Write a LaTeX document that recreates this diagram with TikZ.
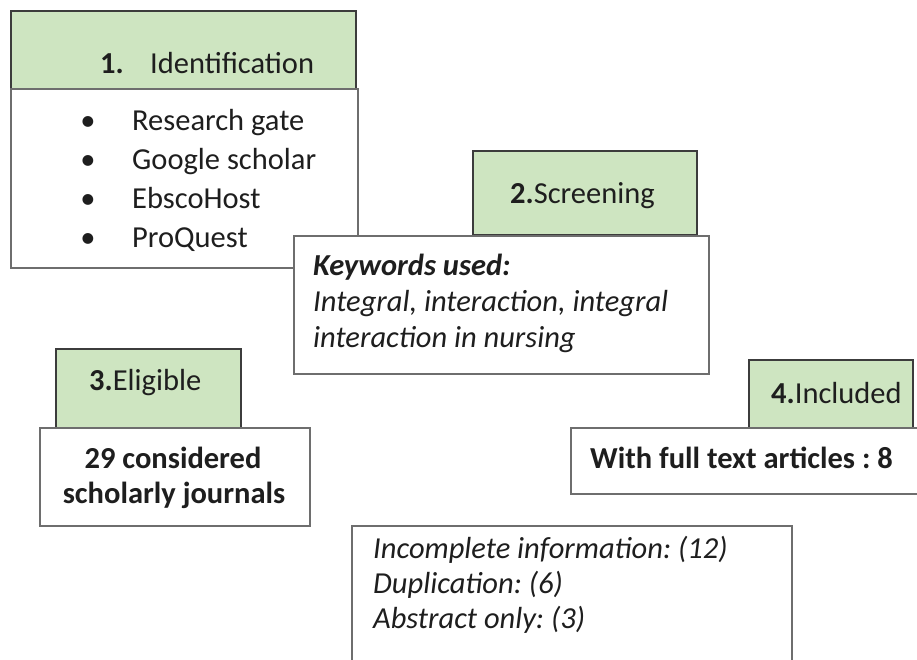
\documentclass[tikz,border=0pt]{standalone}
\usepackage{fontspec}
\setmainfont{Carlito}
\definecolor{hdrgreen}{RGB}{206,229,193}
\definecolor{hdrline}{RGB}{60,60,60}
\definecolor{bodyline}{RGB}{110,110,110}
\definecolor{textcol}{RGB}{30,30,30}
\frenchspacing
\begin{document}
\begin{tikzpicture}[x=1pt,y=-1pt,
  hdr/.style={draw=hdrline, fill=hdrgreen, line width=1.8pt, inner sep=0pt, anchor=north west},
  body/.style={draw=bodyline, fill=white, line width=1.6pt, inner sep=0pt, anchor=north west},
  txt/.style={inner sep=0pt, font=\fontsize{30.5}{36}\selectfont, text=textcol, anchor=base west},
  ctxt/.style={txt, anchor=base}]
\useasboundingbox (0,0) rectangle (917,659);
\clip (0,0) rectangle (917,659);
\fill[white] (0,0) rectangle (917,659);
% box 1
\node[hdr, minimum width=345pt, minimum height=78pt] (h1) at (10,10) {};
\node[body, minimum width=347pt, minimum height=179pt] (b1) at (10,88) {};
\node[txt] (n1) at (100,73) {\textbf{1.}};
\node[txt] (l1) at (150,73) {Identification};
\foreach \y/\t [count=\i] in {130/Research gate,169/Google scholar,208/EbscoHost,247/ProQuest}{
  \node[ctxt] (bu\i) at (88,\y) {•};
  \node[txt] (it\i) at (132,\y) {\t};
}
% box 2
\node[hdr, minimum width=224pt, minimum height=84pt] (h2) at (472,150) {};
\node[body, minimum width=415pt, minimum height=138pt] (b2) at (293,235) {};
\node[txt] (l2) at (510,203) {\textbf{2.}Screening};
\node[txt] (k1) at (313,275) {\bfseries\itshape Keywords used:};
\node[txt] (k2) at (313,311) {\itshape Integral, interaction, integral};
\node[txt] (k3) at (313,347) {\itshape interaction in nursing};
% box 3
\node[hdr, minimum width=185pt, minimum height=79pt] (h3) at (55,348) {};
\node[body, minimum width=270pt, minimum height=98pt] (b3) at (39,427) {};
\node[txt] (l3) at (89,390) {\textbf{3.}Eligible};
\node[ctxt] (e1) at (173,468) {\bfseries 29 considered};
\node[ctxt] (e2) at (174,503) {\bfseries scholarly journals};
% box 4
\node[hdr, minimum width=164pt, minimum height=68pt] (h4) at (748,359) {};
\node[body, minimum width=360pt, minimum height=66pt] (b4) at (570,427) {};
\node[txt] (l4) at (771,403) {\textbf{4.}Included};
\node[txt] (w4) at (590,468) {\bfseries With full text articles : 8};
% box 5
\node[body, minimum width=440pt, minimum height=160pt] (b5) at (351,525) {};
\node[txt] (x1) at (373,558) {\itshape Incomplete information: (12)};
\node[txt] (x2) at (373,593) {\itshape Duplication: (6)};
\node[txt] (x3) at (373,628) {\itshape Abstract only: (3)};
\end{tikzpicture}
\end{document}
